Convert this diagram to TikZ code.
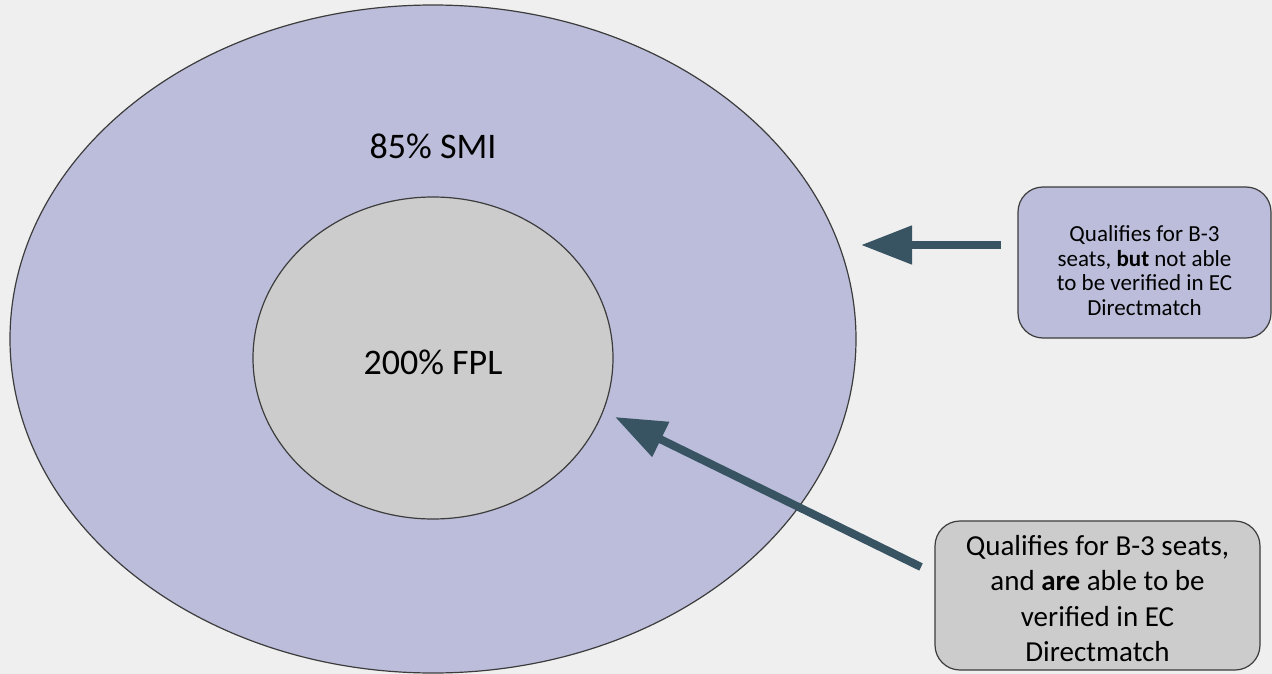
\documentclass[tikz,border=0pt]{standalone}
\usepackage{fontspec}
\setmainfont{Carlito}
\usetikzlibrary{shapes.geometric,arrows.meta}
\definecolor{bg}{RGB}{240,239,239}
\definecolor{lav}{RGB}{187,189,218}
\definecolor{gry}{RGB}{204,204,204}
\definecolor{edgec}{RGB}{60,60,60}
\definecolor{arrc}{RGB}{56,84,98}
\tikzset{
  ring/.style={ellipse, draw=edgec, line width=1.2pt, inner sep=0pt},
  biglabel/.style={font=\fontsize{36}{43}\selectfont, text=black},
  notebox/.style={rounded corners=25pt, draw=edgec, line width=1.2pt, inner sep=0pt},
  notetext/.style={align=center, inner sep=0pt, text=black},
  arr/.style={draw=arrc, line width=8pt, -{Triangle[length=51pt,width=37pt]}}
}
\begin{document}
\begin{tikzpicture}[x=1pt,y=-1pt]
\fill[bg] (0,0) rectangle (1272,674);
\useasboundingbox (0,0) rectangle (1272,674);
\node[ring, fill=lav, minimum width=846pt, minimum height=668pt] (smi) at (433,339) {};
\node[biglabel] (smil) at (433,146) {85\% SMI};
\node[ring, fill=gry, minimum width=360pt, minimum height=322pt] (fpl) at (433,358) {};
\node[biglabel] (fpll) at (433,362) {200\% FPL};
\node[notebox, fill=lav, minimum width=253pt, minimum height=151pt] (b1) at (1144.5,262.5) {};
\node[notetext, font=\fontsize{23}{24.5}\selectfont] (b1t) at ([yshift=-8pt]b1.center)
  {Qualifies for B-3\\seats, \textbf{but} not able\\to be verified in EC\\Directmatch};
\node[notebox, fill=gry, minimum width=325pt, minimum height=149pt] (b2) at (1097.5,595.5) {};
\node[notetext, font=\fontsize{29}{35.5}\selectfont] (b2t) at ([yshift=-3pt]b2.center)
  {Qualifies for B-3 seats,\\and \textbf{are} able to be\\verified in EC\\Directmatch};
\coordinate (a1s) at (1001,245);
\coordinate (a1e) at (861,245);
\coordinate (a2s) at (921,567);
\coordinate (a2e) at (615,417);
\draw[arr] (a1s) -- (a1e);
\draw[arr] (a2s) -- (a2e);
\end{tikzpicture}
\end{document}
